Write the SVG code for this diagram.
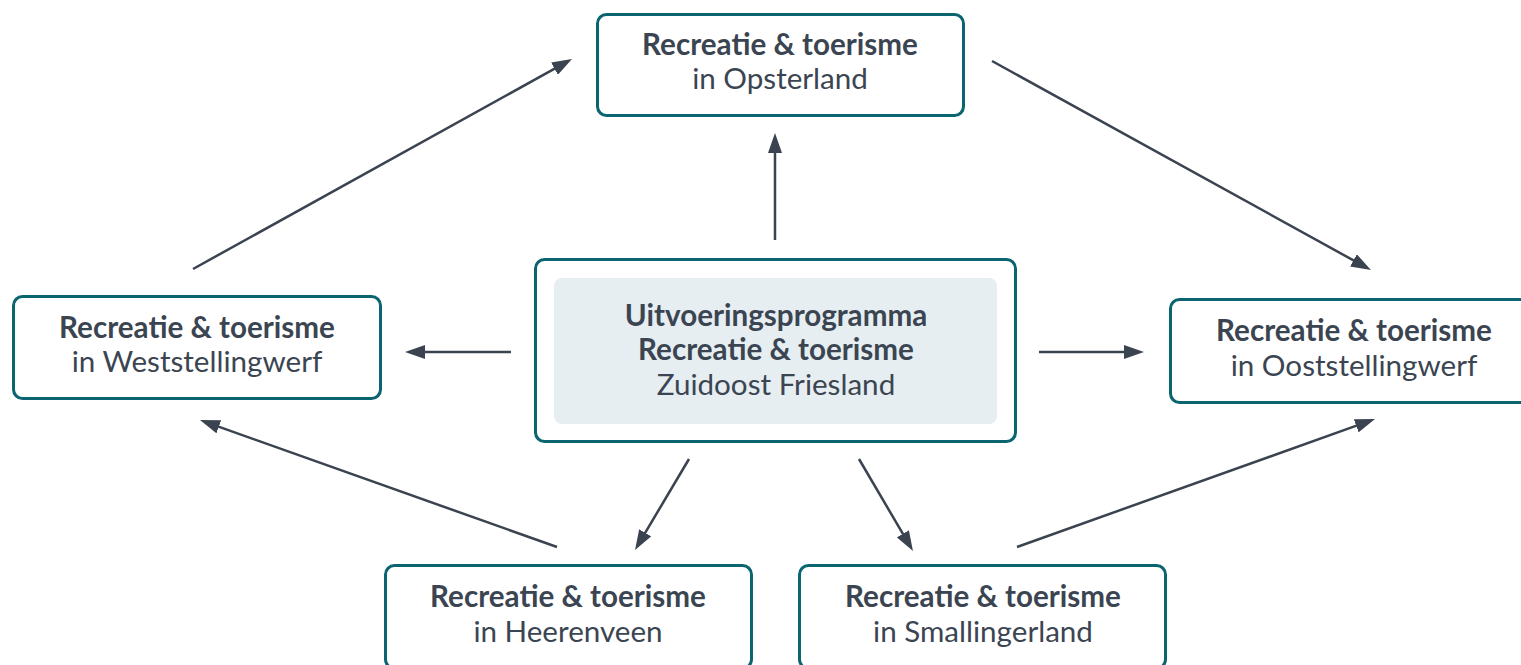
<svg xmlns="http://www.w3.org/2000/svg" width="1521" height="665" viewBox="0 0 1521 665">
<style>
.box{fill:#ffffff;stroke:#0b6570;stroke-width:3}
.inner{fill:#e6eef1}
.t{font-family:Lato,"Open Sans","Liberation Sans",sans-serif;font-size:29.6px;fill:#3b4552;text-anchor:middle}
.b{font-weight:bold}
.c{stroke:#3b4350;stroke-width:2.5;fill:none;marker-end:url(#ah)}
</style>
<defs>
<marker id="ah" markerUnits="userSpaceOnUse" markerWidth="20" markerHeight="14" refX="10" refY="7" orient="auto" viewBox="0 0 20 14">
<path d="M0,0 L20,7 L0,14 z" fill="#3b4350"/>
</marker>
</defs>
<rect width="1521" height="665" fill="#ffffff"/>
<g id="connectors">
<line class="c" x1="193" y1="269" x2="563.25" y2="63.85"/>
<line class="c" x1="992" y1="61" x2="1362.2" y2="265.2"/>
<line class="c" x1="775" y1="240" x2="775" y2="143"/>
<line class="c" x1="511" y1="352" x2="415" y2="352"/>
<line class="c" x1="1039" y1="352" x2="1134" y2="352"/>
<line class="c" x1="689" y1="459" x2="640.1" y2="541.4"/>
<line class="c" x1="859" y1="459" x2="907.9" y2="542.4"/>
<line class="c" x1="557" y1="547" x2="209.4" y2="423.4"/>
<line class="c" x1="1017" y1="547" x2="1365.6" y2="422.4"/>
</g>
<g id="node-center">
<rect class="box" x="535.5" y="259.5" width="480" height="182" rx="9"/>
<rect class="inner" x="554" y="278" width="443" height="146" rx="8"/>
<text class="t b" x="776" y="326">Uitvoeringsprogramma</text>
<text class="t b" x="776" y="360">Recreatie &amp; toerisme</text>
<text class="t" x="776" y="395">Zuidoost Friesland</text>
</g>
<g id="node-opsterland">
<rect class="box" x="597.5" y="14.5" width="366" height="101" rx="9"/>
<text class="t b" x="780" y="54.5">Recreatie &amp; toerisme</text>
<text class="t" x="780" y="89">in Opsterland</text>
</g>
<g id="node-weststellingwerf">
<rect class="box" x="13.5" y="296.5" width="367" height="102" rx="9"/>
<text class="t b" x="197" y="338">Recreatie &amp; toerisme</text>
<text class="t" x="197" y="372">in Weststellingwerf</text>
</g>
<g id="node-ooststellingwerf">
<rect class="box" x="1170.5" y="299.5" width="368" height="103" rx="9"/>
<text class="t b" x="1354" y="341">Recreatie &amp; toerisme</text>
<text class="t" x="1354" y="376">in Ooststellingwerf</text>
</g>
<g id="node-heerenveen">
<rect class="box" x="385.5" y="565.5" width="366" height="103" rx="9"/>
<text class="t b" x="568" y="607">Recreatie &amp; toerisme</text>
<text class="t" x="568" y="642">in Heerenveen</text>
</g>
<g id="node-smallingerland">
<rect class="box" x="799.5" y="565.5" width="366" height="103" rx="9"/>
<text class="t b" x="983" y="607">Recreatie &amp; toerisme</text>
<text class="t" x="983" y="642">in Smallingerland</text>
</g>
</svg>
